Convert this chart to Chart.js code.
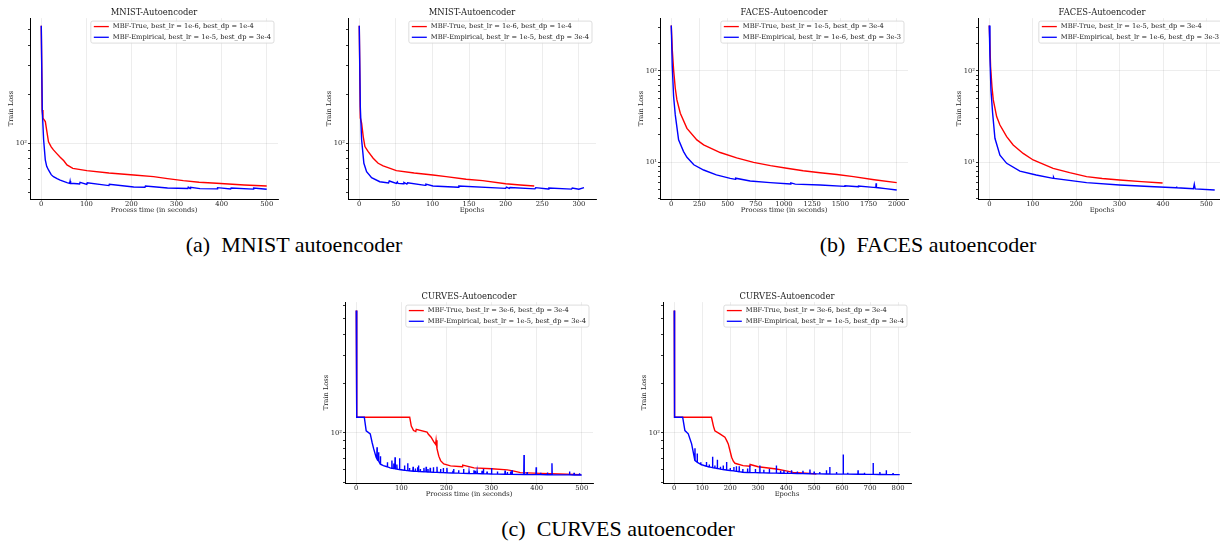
<!DOCTYPE html>
<html>
<head>
<meta charset="utf-8">
<script src="https://cdn.jsdelivr.net/npm/chart.js@4.4.0/dist/chart.umd.min.js"></script>
<style>
  body { margin: 0; width: 1220px; height: 544px; overflow: hidden; background: #fff; position: relative; }
  canvas { position: absolute; }
  .cap { position: absolute; font-family: "Liberation Serif", serif; font-size: 22px; line-height: 1; color: #000; white-space: pre; transform: translateX(-50%); }
</style>
</head>
<body>
<canvas id="c1" width="286" height="215" style="left:0px;top:0px"></canvas>
<canvas id="c2" width="286" height="215" style="left:318px;top:0px"></canvas>
<canvas id="c3" width="286" height="215" style="left:630px;top:0px"></canvas>
<canvas id="c4" width="286" height="215" style="left:948px;top:0px"></canvas>
<canvas id="c5" width="286" height="215" style="left:315px;top:284px"></canvas>
<canvas id="c6" width="286" height="215" style="left:633px;top:284px"></canvas>
<div class="cap" style="left:294px;top:234px">(a)  MNIST autoencoder</div>
<div class="cap" style="left:928px;top:234px">(b)  FACES autoencoder</div>
<div class="cap" style="left:618px;top:518px">(c)  CURVES autoencoder</div>
<script>
// ---- data: [x, train loss] ----
var mnistTimeTrue = [[0,530],[2,160],[3.7,143],[9,136],[16,102],[22,95],[27,91],[35,86],[42,82],[50,78],[57,73.5],[70,70],[101,67.8],[150,65.5],[205,63.7],[249,62.2],[280,60.5],[315,58.8],[350,57.5],[389,56.6],[450,55.3],[500,54.5]];
var mnistTimeEmp = [[0,530],[2.2,160],[5.2,105],[8.9,79],[12,72],[16,68.4],[22,64],[27,62.2],[35,60.5],[42,59.3],[57,57.2],[63,56.6],[64,58.5],[65,56.6],[80,56.2],[85,56.1],[86,57.3],[101,55.8],[102,57],[150,54.8],[151,55.8],[205,53.7],[230,53.5],[231,54.4],[280,53],[325,52.6],[326,53.6],[330,52.6],[331,53.4],[352,52.5],[390,52.3],[391,53.2],[420,52.2],[421,53],[470,52.1],[471,53],[500,52.0]];
var mnistEpochTrue = [[0,530],[1.4,143],[3.2,133],[5.4,110],[7.7,95.3],[12.2,88.7],[19,80.8],[25.8,75.2],[32.6,72.4],[50.7,67.8],[75,65.5],[100.6,63.7],[118.7,62.2],[146,60],[168.6,58.8],[200,56.3],[220,55.3],[239,54.5]];
var mnistEpochEmp = [[0,530],[1.4,168],[3.2,105],[6.3,75.2],[10,66.8],[16.8,61.3],[28,57.9],[40,56.8],[41,58.5],[50.7,56.6],[52,57.8],[53,56.5],[60,56.2],[61,57.3],[65,56],[66,57],[90,55],[91,56],[100.6,54.5],[135,53.5],[136,54.4],[200,52.7],[201,53.6],[205,52.6],[206,53.3],[240,52.3],[241,53.2],[258,52.2],[259,53],[290,52.1],[291,53],[300,52],[307,53.3]];
var facesTimeTrue = [[0,313],[8.9,170],[20.7,102.5],[35.5,64.6],[50,48.1],[80,34.4],[139,23.5],[227,17.6],[287,15.5],[434,12.8],[580,11.2],[730,10],[880,9.2],[1025,8.6],[1170,8.1],[1320,7.7],[1470,7.35],[1616,6.97],[1800,6.45],[2000,5.99]];
var facesTimeEmp = [[0,313],[8.9,111.5],[20.7,52.4],[35.5,33],[65,17.6],[109,13.1],[139,11.35],[200,9.4],[287,8.24],[400,7.3],[523,6.68],[570,6.5],[571,6.7],[700,6.25],[877,6.0],[1060,5.8],[1061,5.95],[1100,5.78],[1320,5.65],[1540,5.45],[1541,5.55],[1660,5.4],[1661,5.5],[1793,5.32],[1815,5.3],[1817,5.9],[1820,5.3],[1900,5.15],[2000,4.98]];
var facesEpochTrue = [[0,313],[3,111],[6.1,67.4],[9.2,48.1],[16.9,31.6],[24.5,25.6],[40,19.1],[55,15.5],[78,12.5],[101,10.6],[147,8.6],[185,7.7],[224,6.97],[260,6.65],[300,6.4],[350,6.15],[399,5.94]];
var facesEpochEmp = [[0,313],[1.5,143],[3.8,62],[7.7,34.4],[13,18.3],[24.5,12.0],[40,9.75],[70.5,8.0],[108,7.26],[147,6.68],[148,6.85],[149,6.68],[224,6.0],[300,5.65],[380,5.4],[430,5.28],[431,5.45],[432,5.27],[470,5.15],[472,5.75],[474,5.12],[519,4.98]];
var curvesTimeTrue = [[0,562],[1,124.7],[118.5,124.7],[122,110],[127,103.3],[132,102],[133,105],[157,101],[160,98],[166,94],[172,88],[176,85],[177,90],[179,80],[183,72],[187,67.6],[194,64.5],[209,62.8],[235,62],[236,63.5],[261,61],[300,60.3],[335,59.3],[350,58.3],[364,57.1],[409,56.5],[450,56],[498,55.5]];
var curvesTimeEmp = [[0,562],[1,124.7],[17.8,124.7],[22,103],[31,98.6],[35,87.6],[38.5,80],[44,70.9],
  [45.5,69.6],[46,81.6],[46.5,69.3],[49,67.6],[49.5,76],[50,67.2],[53,64.5],[53.5,72],[54,64.3],[60,63],
  [68.5,62],[69,66],[69.5,61.9],[75,61],[78.5,60.7],[79,67.6],[79.5,60.7],[82.5,60.5],[83,65],[83.5,60.5],
  [85.5,60.3],[86,70.8],[86.5,60.2],[89.5,60],[90,64],[90.5,60],[95.5,59.6],[96,70],[96.5,59.6],
  [106.5,59],[107,63],[107.5,59],[112,58.7],[113.5,58.7],[114,65.1],[114.5,58.7],[117.5,58.6],[118,61],[118.5,58.6],
  [125.5,58.3],[126,62],[126.5,58.3],[130.5,58.2],[131,60.5],[131.5,58.2],[135.5,58.1],[136,61.5],[136.5,58.1],
  [137.5,58],[138,63],[138.5,58],[141.5,58],[142,60],[142.5,58],[149.5,57.8],[150,61],[150.5,57.8],
  [154.5,57.7],[155,62],[155.5,57.7],[158.5,57.6],[159,60],[159.5,57.6],[163.5,57.5],[164,61],[164.5,57.5],
  [170.5,57.4],[171,61.5],[171.5,57.4],[178.5,57.3],[179,62],[179.5,57.3],[186.5,57.2],[187,60],[187.5,57.2],
  [192.5,57.1],[193,61],[193.5,57.1],[200.5,57],[201,61],[201.5,57],[213.5,56.8],[214,58.7],[214.5,56.8],
  [215.5,56.8],[216,60],[216.5,56.8],[226.5,56.7],[227,59],[227.5,56.7],[237.5,56.5],[238,60],[238.5,56.5],
  [249.5,56.4],[250,58],[250.5,56.4],[260.5,56.3],[261,59],[261.5,56.3],[263.5,56.3],[264,58.7],[264.5,56.3],
  [267.5,56.3],[268,58],[268.5,56.3],[278.5,56.2],[279,58.5],[279.5,56.2],[281.5,56.1],[282,60],[282.5,56.1],
  [289.5,56.1],[290,58],[290.5,56.1],[299.5,56],[300,61],[300.5,56],[312.5,55.9],[313,58],[313.5,55.9],
  [329.5,55.8],[330,58.7],[330.5,55.8],[334.5,55.8],[335,57.5],[335.5,55.8],[341.5,55.7],[342,58],[342.5,55.7],
  [345,55.7],[345.5,59],[346,55.7],[371.5,55.6],[372,73.3],[372.5,55.6],[378.5,55.6],[379,57.5],[379.5,55.6],
  [398.5,55.5],[399,61.5],[399.5,55.5],[408.5,55.5],[409,57],[409.5,55.5],[423.5,55.4],[424,57.2],[424.5,55.4],
  [433.5,55.4],[434,65.1],[434.5,55.4],[472.5,55.3],[473,58],[473.5,55.3],[482.5,55.2],[483,57],[483.5,55.2],
  [494.5,55.2],[495,56.5],[495.5,55.2],[500,55.2]];
var curvesEpochTrue = [[0,562],[1,124.7],[133,124.7],[140,110],[145,103],[163,98.6],[181,94],[187,90],[193,85.6],[199,78],[205,70.9],[211,67],[217,65.1],[246,63],[270,62.5],[271,64],[300,62],[365,60.1],[400,58.5],[425,57.3],[485,56.5],[508,56]];
var curvesEpochEmp = [[0,562],[1,124.7],[30,124.7],[38,103.3],[50,98.6],[62,85.6],
  [73.5,68],[74,80.5],[74.5,67.6],[81.5,66.1],[82,74.7],[82.5,66],[92,64.5],[94.5,64.1],[95,66],[95.5,64],
  [114.5,62.5],[115,66.4],[115.5,62.5],[124.5,61.8],[125,64],[125.5,61.8],[136.5,61.2],[137,71.3],[137.5,61.2],
  [144.5,60.9],[145,63],[145.5,60.9],[153.5,60.5],[154,68.5],[154.5,60.5],[164.5,60],[165,62],[165.5,60],
  [174.5,59.6],[175,63],[175.5,59.6],[186.5,59.2],[187,66.4],[187.5,59.2],[199.5,58.8],[200,61],[200.5,58.8],
  [212.5,58.5],[213,61.8],[213.5,58.5],[221.5,58.2],[222,62.5],[222.5,58.2],[231.5,57.8],[232,62.5],[232.5,57.8],
  [244.5,57.4],[245,60],[245.5,57.4],[261.5,57.2],[262,60.5],[262.5,57.2],[269.5,57.2],[270,63.2],[270.5,57.2],
  [289.5,57.1],[290,60],[290.5,57.1],[305.5,57],[306,63.2],[306.5,57],[319.5,56.9],[320,59.5],[320.5,56.9],
  [339.5,56.8],[340,60],[340.5,56.8],[364.5,56.7],[365,63.2],[365.5,56.7],[379.5,56.6],[380,58.5],[380.5,56.6],
  [391.5,56.6],[392,59],[392.5,56.6],[404.5,56.5],[405,58],[405.5,56.5],[418.5,56.5],[419,59],[419.5,56.5],
  [439.5,56.4],[440,58],[440.5,56.4],[459.5,56.3],[460,58.5],[460.5,56.3],[484.5,56.2],[485,59.6],[485.5,56.2],
  [499.5,56.1],[500,58],[500.5,56.1],[519.5,56.1],[520,57.5],[520.5,56.1],[543.5,56],[544,59],[544.5,56],
  [555.5,56],[556,61.8],[556.5,56],[579.5,55.9],[580,57.5],[580.5,55.9],[603.5,55.9],[604,73.7],[604.5,55.9],
  [619.5,55.9],[620,57],[620.5,55.9],[656.5,55.8],[657,59],[657.5,55.8],[679.5,55.8],[680,57],[680.5,55.8],
  [710.5,55.7],[711,65.4],[711.5,55.7],[734.5,55.6],[735,57.6],[735.5,55.6],[757.5,55.6],[758,59],[758.5,55.6],
  [781.5,55.5],[782,56.8],[782.5,55.5],[806,55.5]];

var mnistLabels = ["MBF-True, best_lr = 1e-6, best_dp = 1e-4", "MBF-Empirical, best_lr = 1e-5, best_dp = 3e-4"];
var facesLabels = ["MBF-True, best_lr = 1e-5, best_dp = 3e-4", "MBF-Empirical, best_lr = 1e-6, best_dp = 3e-3"];
var curvesLabels = ["MBF-True, best_lr = 3e-6, best_dp = 3e-4", "MBF-Empirical, best_lr = 1e-5, best_dp = 3e-4"];

var ticks500 = [0, 100, 200, 300, 400, 500];
var ticks300 = [0, 50, 100, 150, 200, 250, 300];
var ticks2000 = [0, 250, 500, 750, 1000, 1250, 1500, 1750, 2000];
var ticks800 = [0, 100, 200, 300, 400, 500, 600, 700, 800];
var lossTicksHigh = [50, 60, 70, 80, 90, 100, 200, 300, 400, 500, 600];
var lossTicksLow = [4, 5, 6, 7, 8, 9, 10, 20, 30, 40, 50, 60, 70, 80, 90, 100, 200, 300];

var SERIF = "DejaVu Serif";
var TXT = "#1a1a1a";

var panels = [
  {id: "c1", title: "MNIST-Autoencoder", xlabel: "Process time (in seconds)", xr: [-25, 525], xt: ticks500, yr: [45.3, 591], yt: lossTicksHigh, red: mnistTimeTrue, blue: mnistTimeEmp, labels: mnistLabels},
  {id: "c2", title: "MNIST-Autoencoder", xlabel: "Epochs", xr: [-15.4, 323.4], xt: ticks300, yr: [45.3, 591], yt: lossTicksHigh, red: mnistEpochTrue, blue: mnistEpochEmp, labels: mnistLabels},
  {id: "c3", title: "FACES-Autoencoder", xlabel: "Process time (in seconds)", xr: [-100, 2100], xt: ticks2000, yr: [3.97, 378], yt: lossTicksLow, red: facesTimeTrue, blue: facesTimeEmp, labels: facesLabels},
  {id: "c4", title: "FACES-Autoencoder", xlabel: "Epochs", xr: [-26, 545], xt: ticks500, yr: [3.97, 378], yt: lossTicksLow, red: facesEpochTrue, blue: facesEpochEmp, labels: facesLabels},
  {id: "c5", title: "CURVES-Autoencoder", xlabel: "Process time (in seconds)", xr: [-25, 525], xt: ticks500, yr: [49.3, 633], yt: lossTicksHigh, red: curvesTimeTrue, blue: curvesTimeEmp, labels: curvesLabels},
  {id: "c6", title: "CURVES-Autoencoder", xlabel: "Epochs", xr: [-40.3, 846.3], xt: ticks800, yr: [49.3, 633], yt: lossTicksHigh, red: curvesEpochTrue, blue: curvesEpochEmp, labels: curvesLabels}
];

function pts(arr) {
  return arr.map(function (p) { return {x: p[0], y: p[1]}; });
}

// matplotlib-style legend box in the upper right corner of the axes
var legendBox = {
  id: "legendBox",
  afterDatasetsDraw: function (chart) {
    var ctx = chart.ctx, a = chart.chartArea;
    var ds = chart.data.datasets;
    ctx.save();
    ctx.font = "6.7px '" + SERIF + "'";
    var w = 0;
    ds.forEach(function (d) { w = Math.max(w, ctx.measureText(d.label).width); });
    var bw = w + 25, bh = 22;
    var x0 = a.right - 4 - bw, y0 = a.top + 3;
    ctx.fillStyle = "rgba(255,255,255,0.85)";
    ctx.strokeStyle = "#d4d4d4";
    ctx.lineWidth = 0.8;
    ctx.beginPath();
    ctx.roundRect(x0, y0, bw, bh, 2);
    ctx.fill();
    ctx.stroke();
    ds.forEach(function (d, i) {
      var cy = y0 + 5.5 + i * 10.7;
      ctx.strokeStyle = d.borderColor;
      ctx.lineWidth = 1.3;
      ctx.beginPath();
      ctx.moveTo(x0 + 3, cy);
      ctx.lineTo(x0 + 18, cy);
      ctx.stroke();
      ctx.fillStyle = TXT;
      ctx.textBaseline = "middle";
      ctx.fillText(d.label, x0 + 22, cy);
    });
    ctx.restore();
  }
};

panels.forEach(function (p) {
  var yTicks = p.yt.filter(function (v) { return v >= p.yr[0] && v <= p.yr[1]; });
  new Chart(document.getElementById(p.id), {
    type: "line",
    data: {
      datasets: [
        {label: p.labels[0], data: pts(p.red), borderColor: "#ff0000", backgroundColor: "#ff0000", borderWidth: 1.4, pointRadius: 0, fill: false, order: 1},
        {label: p.labels[1], data: pts(p.blue), borderColor: "#0000ff", backgroundColor: "#0000ff", borderWidth: 1.4, pointRadius: 0, fill: false, order: 0}
      ]
    },
    options: {
      responsive: false,
      animation: false,
      layout: {padding: {top: 0, left: 0, right: 8, bottom: 0}},
      plugins: {
        legend: {display: false},
        tooltip: {enabled: false},
        title: {display: true, text: p.title, fullSize: false, color: TXT, font: {family: SERIF, size: 8.4, weight: "normal"}, padding: {top: 8, bottom: 0}}
      },
      scales: {
        x: {
          type: "linear", min: p.xr[0], max: p.xr[1], bounds: "data",
          afterBuildTicks: function (s) { s.ticks = p.xt.map(function (v) { return {value: v}; }); },
          afterFit: function (s) { s.height = 16; },
          ticks: {autoSkip: false, maxRotation: 0, padding: 0, color: TXT, font: {family: SERIF, size: 6.8},
            callback: function (v) { return String(v); }},
          grid: {color: "rgba(0,0,0,0.09)", lineWidth: 0.8, tickColor: "#000", tickLength: 1.5},
          border: {display: true, color: "#000", width: 1},
          title: {display: true, text: p.xlabel, color: TXT, font: {family: SERIF, size: 6.7}, padding: {top: 0, bottom: 0.5}}
        },
        y: {
          type: "logarithmic", min: p.yr[0], max: p.yr[1], bounds: "data",
          afterBuildTicks: function (s) { s.ticks = yTicks.map(function (v) { return {value: v}; }); },
          afterFit: function (s) { s.width = 30; },
          ticks: {autoSkip: false, padding: 1, color: TXT, font: {family: SERIF, size: 6.8},
            callback: function (v) { return v === 100 ? "10\u00b2" : (v === 10 ? "10\u00b9" : ""); }},
          grid: {
            color: function (c) { return (c.tick && (c.tick.value === 100 || c.tick.value === 10)) ? "rgba(0,0,0,0.09)" : "rgba(0,0,0,0)"; },
            lineWidth: 0.8, tickColor: "#000", tickLength: 2
          },
          border: {display: true, color: "#000", width: 1},
          title: {display: true, text: "Train Loss", color: TXT, font: {family: SERIF, size: 6.7}, padding: {top: 7.7, bottom: 0}}
        }
      }
    },
    plugins: [legendBox]
  });
});
</script>
</body>
</html>
